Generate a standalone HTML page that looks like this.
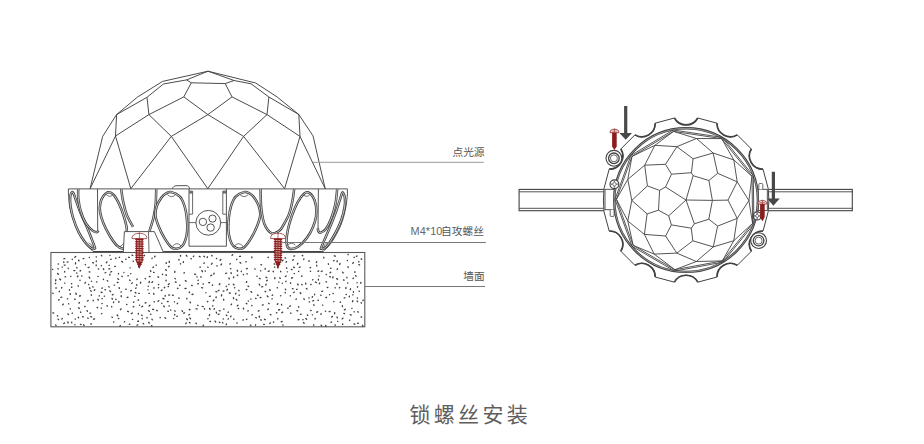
<!DOCTYPE html>
<html><head><meta charset="utf-8"><title>锁螺丝安装</title>
<style>
html,body{margin:0;padding:0;background:#fff;}
body{width:924px;height:444px;overflow:hidden;font-family:"Liberation Sans",sans-serif;}
svg{display:block;}
</style></head><body>
<svg width="924" height="444" viewBox="0 0 924 444">
<rect width="924" height="444" fill="#fff"/>
<path d="M90.1,188.7 L102.7,136.3 L116.6,114.6 L137.5,97.0 L162.6,81.4 L208.0,71.2 L255.7,83.0 L277.2,97.0 L298.8,114.5 L313.0,135.8 L325.2,188.7 M208.0,71.2 L186.6,79.9 L163.4,84.0 L147.0,97.3 L116.6,114.6 M208.0,71.2 L234.0,80.5 L251.0,83.8 L268.9,97.0 L298.8,114.5 M186.6,79.9 L191.3,82.8 L225.2,83.6 L234.0,80.5 M191.3,82.8 L183.8,96.9 L148.9,114.6 M225.2,83.6 L232.0,96.9 L267.0,114.6 M183.8,96.9 L207.9,114.6 L232.0,96.9 M147.0,97.3 L148.9,114.6 L115.5,136.0 M268.9,97.0 L267.0,114.6 L300.0,136.4 M148.9,114.6 L171.3,136.4 L207.9,114.6 L243.6,136.4 L267.0,114.6 M116.6,114.6 L115.5,136.0 L90.1,188.7 M298.8,114.5 L300.0,136.4 L325.2,188.7 M115.5,136.0 L130.8,188.7 L171.3,136.4 L207.8,188.7 L243.6,136.4 L284.6,188.7 L300.0,136.4" fill="none" stroke="#424242" stroke-width="0.95" stroke-linejoin="round"/>
<path d="M68.4,188.9 L347.4,188.9" fill="none" stroke="#424242" stroke-width="0.9" />
<path d="M68.4,188.9 L68.4,194  C68.7,196.5 68.9,203.7 70.1,209.0 C71.3,214.3 73.2,220.5 75.5,225.8 C77.8,231.2 81.0,236.8 83.9,241.1 C86.8,245.4 91.5,249.8 93.0,251.5" fill="none" stroke="#424242" stroke-width="0.9" />
<path d="M347.4,188.9 L347.4,195  C347.1,197.3 346.6,203.9 345.5,209.0 C344.4,214.1 343.0,220.2 340.6,225.8 C338.2,231.4 334.3,238.4 331.4,242.7 C328.5,247.0 324.6,250.0 323.2,251.5" fill="none" stroke="#424242" stroke-width="0.9" />
<path d="M72.0,192.2 C71.4,192.6 70.5,194.4 70.2,196.7 C70.0,199.0 70.0,202.3 70.5,205.9 C71.0,209.5 71.9,213.9 73.2,218.2 C74.5,222.5 76.5,227.8 78.5,231.9 C80.5,236.0 83.2,239.9 85.4,242.7 C87.6,245.4 90.1,247.4 91.6,248.4 C93.1,249.4 94.1,249.0 94.6,248.6 C95.0,248.2 95.6,249.6 94.3,246.0 C93.0,242.4 89.2,232.7 87.0,227.3 C84.8,221.9 82.6,217.9 80.8,213.6 C79.0,209.3 77.5,204.6 76.3,201.3 C75.1,198.0 74.5,195.5 73.8,194.0 C73.1,192.5 72.6,191.8 72.0,192.2 Z" fill="none" stroke="#3c3c3c" stroke-width="2.5" />
<path d="M72.0,192.2 C71.4,192.6 70.5,194.4 70.2,196.7 C70.0,199.0 70.0,202.3 70.5,205.9 C71.0,209.5 71.9,213.9 73.2,218.2 C74.5,222.5 76.5,227.8 78.5,231.9 C80.5,236.0 83.2,239.9 85.4,242.7 C87.6,245.4 90.1,247.4 91.6,248.4 C93.1,249.4 94.1,249.0 94.6,248.6 C95.0,248.2 95.6,249.6 94.3,246.0 C93.0,242.4 89.2,232.7 87.0,227.3 C84.8,221.9 82.6,217.9 80.8,213.6 C79.0,209.3 77.5,204.6 76.3,201.3 C75.1,198.0 74.5,195.5 73.8,194.0 C73.1,192.5 72.6,191.8 72.0,192.2 Z" fill="none" stroke="#fff" stroke-width="0.75" />
<path d="M88.6,242.8 Q92.4,244.2 92.6,247.4" fill="none" stroke="#424242" stroke-width="0.7" />
<path d="M78.2,188.9 C78.2,190.5 77.9,194.7 78.3,198.3 C78.7,201.9 79.4,206.4 80.6,210.5 C81.8,214.6 83.6,219.5 85.6,222.8 C87.5,226.1 90.5,228.8 92.3,230.4 C94.1,232.0 95.5,232.2 96.6,232.2 C97.6,232.2 98.3,230.9 98.6,230.6" fill="none" stroke="#3c3c3c" stroke-width="2.5" />
<path d="M78.2,188.9 C78.2,190.5 77.9,194.7 78.3,198.3 C78.7,201.9 79.4,206.4 80.6,210.5 C81.8,214.6 83.6,219.5 85.6,222.8 C87.5,226.1 90.5,228.8 92.3,230.4 C94.1,232.0 95.5,232.2 96.6,232.2 C97.6,232.2 98.3,230.9 98.6,230.6" fill="none" stroke="#fff" stroke-width="0.75" />
<path d="M97.5,188.9 L97.7,230.6" fill="none" stroke="#424242" stroke-width="0.9" />
<path d="M108.5,192.3 C110.2,192.2 112.1,193.2 113.9,195.2 C115.7,197.2 117.6,200.8 119.3,204.4 C121.0,208.0 122.7,212.7 123.9,216.6 C125.1,220.5 126.2,224.3 126.7,228.0 C127.2,231.7 126.9,235.9 126.6,239.0 C126.2,242.1 125.3,245.0 124.6,246.6 C123.9,248.2 123.6,248.6 122.3,248.4 C121.0,248.2 119.2,247.9 117.0,245.7 C114.8,243.5 111.6,238.8 109.3,235.0 C107.0,231.2 104.7,226.6 103.2,222.8 C101.7,219.0 100.6,215.3 100.1,212.0 C99.6,208.7 99.9,205.5 100.4,202.8 C101.0,200.1 102.1,197.8 103.4,196.0 C104.8,194.2 106.8,192.4 108.5,192.3 Z" fill="none" stroke="#3c3c3c" stroke-width="2.5" />
<path d="M108.5,192.3 C110.2,192.2 112.1,193.2 113.9,195.2 C115.7,197.2 117.6,200.8 119.3,204.4 C121.0,208.0 122.7,212.7 123.9,216.6 C125.1,220.5 126.2,224.3 126.7,228.0 C127.2,231.7 126.9,235.9 126.6,239.0 C126.2,242.1 125.3,245.0 124.6,246.6 C123.9,248.2 123.6,248.6 122.3,248.4 C121.0,248.2 119.2,247.9 117.0,245.7 C114.8,243.5 111.6,238.8 109.3,235.0 C107.0,231.2 104.7,226.6 103.2,222.8 C101.7,219.0 100.6,215.3 100.1,212.0 C99.6,208.7 99.9,205.5 100.4,202.8 C101.0,200.1 102.1,197.8 103.4,196.0 C104.8,194.2 106.8,192.4 108.5,192.3 Z" fill="none" stroke="#fff" stroke-width="0.75" />
<path d="M106.2,194.4 Q109.3,197.8 112.6,195.2" fill="none" stroke="#424242" stroke-width="0.75" />
<path d="M120.0,246.6 Q122.6,245.2 123.6,243.2" fill="none" stroke="#424242" stroke-width="0.75" />
<path d="M121.2,188.9 C121.5,191.0 122.1,196.9 123.1,201.3 C124.0,205.7 125.2,210.8 126.9,215.1 C128.6,219.3 132.0,224.9 133.0,226.8" fill="none" stroke="#3c3c3c" stroke-width="2.5" />
<path d="M121.2,188.9 C121.5,191.0 122.1,196.9 123.1,201.3 C124.0,205.7 125.2,210.8 126.9,215.1 C128.6,219.3 132.0,224.9 133.0,226.8" fill="none" stroke="#fff" stroke-width="0.75" />
<path d="M156.2,188.9 C156.1,191.6 156.1,200.2 155.6,205.0 C155.1,209.8 154.4,213.6 153.4,218.0 C152.4,222.4 150.1,229.0 149.4,231.2" fill="none" stroke="#3c3c3c" stroke-width="2.5" />
<path d="M156.2,188.9 C156.1,191.6 156.1,200.2 155.6,205.0 C155.1,209.8 154.4,213.6 153.4,218.0 C152.4,222.4 150.1,229.0 149.4,231.2" fill="none" stroke="#fff" stroke-width="0.75" />
<path d="M123.3,252.0 L124.4,231.6 L154.4,231.6 L163.3,252.0" fill="#fff" stroke="#424242" stroke-width="0.9"/>
<path d="M148.5,231.6 L149.0,252.0" fill="none" stroke="#424242" stroke-width="0.8" />
<path d="M171.4,192.1 C173.7,192.6 177.7,194.4 179.9,196.7 C182.1,199.0 183.3,202.3 184.5,205.9 C185.7,209.5 186.4,214.1 186.8,218.2 C187.2,222.3 187.4,226.8 187.2,230.4 C187.0,234.0 186.3,237.0 185.5,239.6 C184.7,242.2 183.6,244.5 182.2,246.0 C180.8,247.5 178.6,248.6 176.8,248.8 C175.0,249.0 173.5,249.1 171.4,247.3 C169.3,245.5 166.7,241.7 164.5,238.1 C162.3,234.5 159.9,229.6 158.4,225.8 C156.9,222.0 155.7,218.4 155.4,215.1 C155.2,211.8 155.9,208.8 156.9,205.9 C157.9,203.0 160.0,199.6 161.5,197.5 C163.0,195.4 164.4,194.3 166.1,193.4 C167.8,192.5 169.1,191.6 171.4,192.1 Z" fill="none" stroke="#3c3c3c" stroke-width="2.5" />
<path d="M171.4,192.1 C173.7,192.6 177.7,194.4 179.9,196.7 C182.1,199.0 183.3,202.3 184.5,205.9 C185.7,209.5 186.4,214.1 186.8,218.2 C187.2,222.3 187.4,226.8 187.2,230.4 C187.0,234.0 186.3,237.0 185.5,239.6 C184.7,242.2 183.6,244.5 182.2,246.0 C180.8,247.5 178.6,248.6 176.8,248.8 C175.0,249.0 173.5,249.1 171.4,247.3 C169.3,245.5 166.7,241.7 164.5,238.1 C162.3,234.5 159.9,229.6 158.4,225.8 C156.9,222.0 155.7,218.4 155.4,215.1 C155.2,211.8 155.9,208.8 156.9,205.9 C157.9,203.0 160.0,199.6 161.5,197.5 C163.0,195.4 164.4,194.3 166.1,193.4 C167.8,192.5 169.1,191.6 171.4,192.1 Z" fill="none" stroke="#fff" stroke-width="0.75" />
<path d="M244.2,192.1 C241.9,192.6 237.9,194.4 235.7,196.7 C233.5,199.0 232.3,202.3 231.1,205.9 C230.0,209.5 229.2,214.1 228.8,218.2 C228.4,222.3 228.2,226.8 228.4,230.4 C228.6,234.0 229.3,237.0 230.1,239.6 C230.9,242.2 232.0,244.5 233.4,246.0 C234.9,247.5 237.0,248.6 238.8,248.8 C240.6,249.0 242.2,249.1 244.2,247.3 C246.3,245.5 248.9,241.7 251.1,238.1 C253.3,234.5 255.7,229.6 257.2,225.8 C258.7,222.0 260.0,218.4 260.2,215.1 C260.5,211.8 259.7,208.8 258.7,205.9 C257.7,203.0 255.6,199.6 254.1,197.5 C252.6,195.4 251.2,194.3 249.5,193.4 C247.9,192.5 246.5,191.6 244.2,192.1 Z" fill="none" stroke="#3c3c3c" stroke-width="2.5" />
<path d="M244.2,192.1 C241.9,192.6 237.9,194.4 235.7,196.7 C233.5,199.0 232.3,202.3 231.1,205.9 C230.0,209.5 229.2,214.1 228.8,218.2 C228.4,222.3 228.2,226.8 228.4,230.4 C228.6,234.0 229.3,237.0 230.1,239.6 C230.9,242.2 232.0,244.5 233.4,246.0 C234.9,247.5 237.0,248.6 238.8,248.8 C240.6,249.0 242.2,249.1 244.2,247.3 C246.3,245.5 248.9,241.7 251.1,238.1 C253.3,234.5 255.7,229.6 257.2,225.8 C258.7,222.0 260.0,218.4 260.2,215.1 C260.5,211.8 259.7,208.8 258.7,205.9 C257.7,203.0 255.6,199.6 254.1,197.5 C252.6,195.4 251.2,194.3 249.5,193.4 C247.9,192.5 246.5,191.6 244.2,192.1 Z" fill="none" stroke="#fff" stroke-width="0.75" />
<path d="M167.4,194.6 Q171.4,198.6 175.5,194.8" fill="none" stroke="#424242" stroke-width="0.75" />
<path d="M172.6,246.2 Q176.8,241.4 181.0,245.8" fill="none" stroke="#424242" stroke-width="0.75" />
<path d="M248.20000000000002,194.6 Q244.20000000000002,198.6 240.10000000000002,194.8" fill="none" stroke="#424242" stroke-width="0.75" />
<path d="M243.00000000000003,246.2 Q238.8,241.4 234.60000000000002,245.8" fill="none" stroke="#424242" stroke-width="0.75" />
<path d="M189.0,188.9 L189.0,246.2 L226.4,246.2 L226.4,188.9" fill="none" stroke="#424242" stroke-width="0.9" />
<path d="M192.6,191.0 L192.6,214.2 L189.0,214.2" fill="none" stroke="#424242" stroke-width="0.8" />
<path d="M222.8,191.0 L222.8,214.2 L226.4,214.2" fill="none" stroke="#424242" stroke-width="0.8" />
<rect x="189.3" y="190.6" width="3.1" height="3" fill="#424242" opacity="0.75"/><rect x="223.0" y="190.6" width="3.1" height="3" fill="#424242" opacity="0.75"/>
<path d="M189.0,222.6 L196.0,222.6 M220.6,222.6 L226.4,222.6" fill="none" stroke="#424242" stroke-width="0.8" />
<circle cx="208.3" cy="222.8" r="12.4" fill="none" stroke="#424242" stroke-width="0.9"/>
<circle cx="202.9" cy="221.9" r="3.7" fill="none" stroke="#424242" stroke-width="0.9"/>
<circle cx="212.5" cy="218.6" r="3.6" fill="none" stroke="#424242" stroke-width="0.9"/>
<circle cx="210.6" cy="227.6" r="3.7" fill="none" stroke="#424242" stroke-width="0.9"/>
<path d="M172.4,188.9 C173,186.6 174.5,185.7 177,185.7 L186,185.6 C188.6,185.6 189.4,187 189.6,188.9" fill="none" stroke="#424242" stroke-width="0.9" />
<path d="M260.6,188.9 C260.7,192.1 260.6,202.4 261.3,208.3 C262.0,214.2 262.8,220.3 264.6,224.5 C266.4,228.7 269.4,232.4 271.9,233.4 C274.4,234.4 277.6,231.9 279.6,230.4 C281.6,228.9 282.2,227.1 283.8,224.3 C285.4,221.5 287.8,217.4 289.2,213.6 C290.6,209.8 291.6,205.4 292.4,201.3 C293.2,197.2 293.9,191.0 294.2,188.9" fill="none" stroke="#3c3c3c" stroke-width="2.5" />
<path d="M260.6,188.9 C260.7,192.1 260.6,202.4 261.3,208.3 C262.0,214.2 262.8,220.3 264.6,224.5 C266.4,228.7 269.4,232.4 271.9,233.4 C274.4,234.4 277.6,231.9 279.6,230.4 C281.6,228.9 282.2,227.1 283.8,224.3 C285.4,221.5 287.8,217.4 289.2,213.6 C290.6,209.8 291.6,205.4 292.4,201.3 C293.2,197.2 293.9,191.0 294.2,188.9" fill="none" stroke="#fff" stroke-width="0.75" />
<path d="M306.8,192.3 C308.8,192.2 311.4,194.4 312.9,196.7 C314.4,199.0 315.5,202.6 316.0,205.9 C316.5,209.2 316.5,213.0 316.0,216.6 C315.5,220.2 314.4,223.7 312.9,227.3 C311.4,230.9 309.2,234.9 306.8,238.1 C304.4,241.3 301.1,244.7 298.4,246.5 C295.7,248.3 292.6,249.0 290.7,248.9 C288.8,248.8 287.6,247.8 287.0,245.7 C286.4,243.6 286.4,240.1 286.8,236.5 C287.2,232.9 287.9,228.9 289.2,224.3 C290.5,219.7 292.6,213.5 294.5,209.0 C296.4,204.5 298.6,200.3 300.7,197.5 C302.8,194.7 304.8,192.4 306.8,192.3 Z" fill="none" stroke="#3c3c3c" stroke-width="2.5" />
<path d="M306.8,192.3 C308.8,192.2 311.4,194.4 312.9,196.7 C314.4,199.0 315.5,202.6 316.0,205.9 C316.5,209.2 316.5,213.0 316.0,216.6 C315.5,220.2 314.4,223.7 312.9,227.3 C311.4,230.9 309.2,234.9 306.8,238.1 C304.4,241.3 301.1,244.7 298.4,246.5 C295.7,248.3 292.6,249.0 290.7,248.9 C288.8,248.8 287.6,247.8 287.0,245.7 C286.4,243.6 286.4,240.1 286.8,236.5 C287.2,232.9 287.9,228.9 289.2,224.3 C290.5,219.7 292.6,213.5 294.5,209.0 C296.4,204.5 298.6,200.3 300.7,197.5 C302.8,194.7 304.8,192.4 306.8,192.3 Z" fill="none" stroke="#fff" stroke-width="0.75" />
<path d="M303.6,195.0 Q307.2,198.0 310.0,194.4" fill="none" stroke="#424242" stroke-width="0.75" />
<path d="M287.8,244.8 Q291.6,241.6 295.4,245.0" fill="none" stroke="#424242" stroke-width="0.75" />
<path d="M318.4,188.9 L318.0,229.0" fill="none" stroke="#424242" stroke-width="0.9" />
<path d="M317.8,228.0 C317.9,228.6 317.9,230.6 318.4,231.4 C318.9,232.2 319.5,232.9 320.7,232.6 C321.9,232.3 323.6,231.8 325.3,229.6 C327.0,227.4 329.0,223.9 330.7,219.7 C332.4,215.5 334.2,209.5 335.3,204.4 C336.4,199.3 336.9,191.5 337.2,188.9" fill="none" stroke="#3c3c3c" stroke-width="2.5" />
<path d="M317.8,228.0 C317.9,228.6 317.9,230.6 318.4,231.4 C318.9,232.2 319.5,232.9 320.7,232.6 C321.9,232.3 323.6,231.8 325.3,229.6 C327.0,227.4 329.0,223.9 330.7,219.7 C332.4,215.5 334.2,209.5 335.3,204.4 C336.4,199.3 336.9,191.5 337.2,188.9" fill="none" stroke="#fff" stroke-width="0.75" />
<path d="M342.9,192.6 C343.4,193.3 344.6,195.8 344.9,198.3 C345.2,200.8 345.1,203.8 344.5,207.4 C343.9,211.0 342.8,215.6 341.4,219.7 C340.0,223.8 338.2,227.8 336.0,231.9 C333.8,236.0 330.5,241.4 328.4,244.2 C326.3,247.0 324.8,247.9 323.6,248.6 C322.4,249.3 321.7,248.9 321.4,248.6 C321.1,248.3 320.2,250.1 321.6,246.6 C323.0,243.1 327.6,232.8 329.9,227.3 C332.2,221.8 333.6,218.2 335.3,213.6 C337.0,209.0 338.8,203.1 339.9,199.8 C341.0,196.5 341.2,195.2 341.7,194.0 C342.2,192.8 342.4,191.9 342.9,192.6 Z" fill="none" stroke="#3c3c3c" stroke-width="2.5" />
<path d="M342.9,192.6 C343.4,193.3 344.6,195.8 344.9,198.3 C345.2,200.8 345.1,203.8 344.5,207.4 C343.9,211.0 342.8,215.6 341.4,219.7 C340.0,223.8 338.2,227.8 336.0,231.9 C333.8,236.0 330.5,241.4 328.4,244.2 C326.3,247.0 324.8,247.9 323.6,248.6 C322.4,249.3 321.7,248.9 321.4,248.6 C321.1,248.3 320.2,250.1 321.6,246.6 C323.0,243.1 327.6,232.8 329.9,227.3 C332.2,221.8 333.6,218.2 335.3,213.6 C337.0,209.0 338.8,203.1 339.9,199.8 C341.0,196.5 341.2,195.2 341.7,194.0 C342.2,192.8 342.4,191.9 342.9,192.6 Z" fill="none" stroke="#fff" stroke-width="0.75" />
<path d="M323.6,247.4 Q323.8,244.2 327.4,242.6" fill="none" stroke="#424242" stroke-width="0.7" />
<path d="M93.0,251.5 L123.3,251.5 M163.3,251.5 L323.2,251.5" fill="none" stroke="#424242" stroke-width="1.0" />
<rect x="50.9" y="252.5" width="313.9" height="74.3" fill="#fff" stroke="#5a5a5a" stroke-width="1.1"/>
<path d="M193.1,294.2 l-1.0,0.3 M339.7,287.5 l-0.3,0.4 M210.3,296.2 l-0.8,0.1 M109.9,290.8 l0.6,0.8 M248.2,310.8 l-0.3,0.3 M81.7,275.9 l0.2,0.2 M80.7,312.0 l-0.0,0.4 M268.0,257.3 l0.3,0.3 M357.7,323.1 l0.6,0.3 M255.7,298.2 l0.3,0.3 M101.4,255.4 l0.4,0.5 M216.7,258.5 l-0.3,0.1 M111.6,271.6 l-0.9,0.4 M61.8,287.4 l-0.2,0.6 M189.4,314.4 l-0.5,0.5 M213.8,300.0 l-0.5,0.9 M207.8,301.5 l-0.3,0.3 M194.6,274.1 l1.0,0.2 M362.5,325.3 l0.4,0.8 M313.6,304.8 l0.5,0.4 M150.5,270.7 l0.3,0.8 M142.3,259.3 l-0.6,0.1 M290.6,282.8 l-0.1,0.5 M315.5,281.9 l0.8,0.7 M350.2,314.7 l1.0,0.4 M52.7,269.3 l-0.1,0.2 M335.3,287.8 l-0.3,0.1 M357.1,282.6 l-0.1,0.3 M75.2,299.2 l-0.5,0.0 M294.4,273.5 l-0.2,0.1 M352.0,308.3 l-0.1,0.2 M89.2,271.9 l0.7,0.1 M83.9,258.6 l-0.8,0.0 M300.1,267.0 l-0.8,0.4 M226.3,286.2 l-0.0,0.3 M111.7,306.5 l-0.0,0.4 M93.2,300.2 l-0.0,0.5 M88.7,284.3 l0.0,0.4 M118.6,273.5 l-0.3,0.5 M354.2,311.6 l0.0,0.3 M147.0,317.4 l0.0,0.7 M118.0,282.4 l-0.7,0.1 M318.0,300.1 l0.4,0.2 M83.7,324.8 l0.4,0.7 M292.6,277.8 l-1.1,0.2 M80.5,295.8 l-1.0,0.2 M128.0,297.2 l-0.9,0.4 M168.0,286.6 l0.6,0.0 M350.5,288.8 l-0.2,0.8 M231.0,316.1 l-0.3,0.7 M109.3,265.3 l-0.3,0.1 M334.7,312.6 l-0.1,1.1 M130.0,267.8 l0.3,0.0 M282.2,321.4 l-1.0,0.4 M113.6,322.0 l0.2,0.0 M326.6,297.3 l-0.7,0.4 M183.4,261.7 l-0.0,0.7 M64.5,322.9 l-0.7,0.6 M126.6,304.5 l0.3,0.0 M132.3,313.0 l-0.9,0.6 M237.8,275.2 l-0.5,0.3 M107.0,305.7 l0.3,0.4 M73.9,270.6 l0.9,0.0 M226.3,315.1 l0.5,0.5 M243.4,274.3 l-0.0,0.5 M337.5,268.8 l-0.3,0.5 M57.6,273.5 l0.7,0.7 M191.0,258.6 l0.3,0.2 M107.3,280.6 l0.4,0.5 M230.3,263.7 l-0.4,0.3 M165.0,317.8 l0.6,0.5 M357.1,301.1 l0.5,0.5 M267.3,296.0 l0.7,0.7 M96.1,256.8 l0.3,0.2 M58.1,319.2 l0.3,0.4 M270.3,322.9 l-0.5,0.6 M59.1,299.7 l-0.5,0.4 M202.3,306.4 l0.9,0.2 M151.6,325.6 l0.3,0.3 M75.9,293.2 l0.3,1.1 M281.5,304.5 l0.2,0.5 M299.0,319.5 l-1.0,0.3 M161.8,303.2 l0.1,0.3 M332.4,316.4 l-0.7,0.6 M182.1,310.7 l0.4,0.8 M320.8,295.1 l0.2,0.4 M246.7,281.6 l-0.3,0.8 M233.5,297.7 l0.1,0.9 M361.1,317.0 l0.6,0.0 M278.8,282.0 l0.1,0.2 M280.9,295.7 l-0.3,0.1 M78.5,307.8 l0.8,0.6 M61.8,297.2 l-1.0,0.1 M201.9,270.7 l0.5,0.9 M269.5,289.8 l0.8,0.4 M243.4,319.9 l-0.4,0.1 M132.0,255.1 l0.7,0.3 M146.0,302.7 l-0.8,0.3 M115.4,266.4 l-0.6,0.1 M333.9,301.4 l0.1,0.3 M189.8,317.9 l0.7,0.8 M154.1,301.8 l0.4,0.1 M114.2,285.0 l0.1,0.2 M302.9,319.5 l0.2,0.3 M326.0,281.7 l0.6,0.3 M233.7,276.9 l-0.1,0.7 M94.8,289.7 l-0.5,0.5 M312.6,314.8 l-0.3,0.0 M273.5,322.0 l0.2,0.2 M138.5,266.4 l0.5,0.7 M246.9,289.5 l-0.6,0.2 M150.5,314.1 l0.4,0.2 M357.6,286.6 l-0.1,0.5 M75.7,256.5 l-0.9,0.7 M323.7,257.3 l0.1,0.7 M272.7,295.0 l-0.5,0.3 M148.5,310.7 l0.9,0.6 M58.4,264.0 l-0.2,0.0 M193.8,256.1 l-0.4,0.4 M310.3,271.2 l0.3,0.1 M248.0,286.1 l0.7,0.4 M248.2,301.0 l0.2,0.1 M303.4,322.6 l0.7,0.6 M265.2,268.5 l0.0,0.8 M200.1,267.0 l0.0,0.4 M55.8,288.0 l0.5,0.0 M274.4,267.1 l0.4,0.1 M137.1,279.0 l-0.2,0.5 M243.4,308.2 l0.1,0.8 M174.8,310.8 l0.3,0.4 M334.1,260.5 l-0.7,0.3 M342.3,305.8 l0.2,0.7 M92.9,286.6 l0.1,0.5 M246.9,319.2 l-0.4,0.1 M169.6,294.9 l-0.9,0.2 M325.7,311.1 l-0.3,0.1 M345.9,287.4 l-0.0,1.1 M254.9,268.9 l0.2,0.3 M276.8,312.6 l-0.3,0.3 M251.9,305.5 l-0.1,0.3 M118.8,318.5 l-0.4,0.1 M219.3,310.7 l0.8,0.2 M152.0,319.2 l0.3,0.6 M318.4,279.1 l0.0,1.0 M78.2,285.7 l-0.0,0.5 M223.5,309.1 l0.6,0.0 M203.9,256.3 l0.5,0.5 M303.9,258.9 l-0.2,0.6 M156.6,310.5 l0.6,0.2 M96.2,264.9 l0.0,0.8 M213.0,305.9 l-0.5,0.0 M347.4,260.4 l0.0,0.3 M121.3,291.9 l-0.3,0.2 M142.7,306.3 l-0.8,0.5 M251.0,291.6 l0.7,0.7 M314.6,294.2 l-0.0,0.6 M149.3,281.5 l-0.2,1.0 M315.1,318.5 l0.0,0.6 M117.2,315.0 l0.6,0.8 M353.4,291.7 l-0.0,0.5 M230.5,268.6 l0.3,0.2 M219.0,290.2 l-0.8,0.5 M240.5,256.3 l-1.0,0.1 M227.4,289.3 l-0.5,0.8 M219.9,283.8 l-0.6,0.7 M349.8,320.1 l-0.3,0.2 M136.1,288.0 l-0.4,0.3 M305.9,318.5 l0.7,0.7 M200.6,276.9 l0.7,0.0 M112.0,298.4 l0.4,0.8 M340.0,263.5 l-0.3,1.0 M294.6,255.9 l-0.8,0.2 M266.0,277.3 l0.8,0.2 M162.9,298.5 l1.0,0.4 M85.1,306.4 l-0.4,0.2 M90.6,290.7 l0.7,0.5 M169.2,283.8 l-0.8,0.7 M217.0,265.7 l-0.1,0.3 M116.0,299.3 l-0.2,0.2 M318.7,270.9 l-0.8,0.4 M282.7,312.1 l-0.8,0.6 M333.0,276.8 l-0.2,1.0 M120.3,325.5 l-0.3,0.6 M328.3,263.8 l0.2,0.5 M133.1,261.2 l0.3,0.0 M311.1,284.4 l-0.3,0.2 M297.9,263.3 l-0.4,0.8 M177.6,303.2 l-0.4,0.5 M58.0,268.6 l0.2,0.4 M264.5,319.3 l0.7,0.4 M353.4,262.5 l-0.6,0.9 M209.6,308.4 l0.5,0.9 M111.2,259.3 l-0.4,0.1 M223.9,291.0 l-0.7,0.1 M109.8,268.8 l-0.9,0.1 M313.6,324.9 l0.2,0.4 M71.7,322.1 l-0.0,0.6 M196.1,308.8 l1.0,0.1 M154.0,287.6 l-0.1,0.6 M212.6,285.0 l-0.3,0.3 M270.3,314.5 l0.6,0.4 M108.8,286.7 l0.4,0.3 M282.2,283.2 l0.2,0.1 M211.8,255.4 l0.3,0.6 M330.0,311.5 l-0.8,0.1 M238.8,290.3 l0.2,0.5 M357.8,311.7 l0.5,0.4 M132.7,319.3 l-0.3,0.0 M305.6,283.2 l0.2,0.8 M268.4,309.0 l-0.5,0.5 M277.0,259.3 l-0.4,0.9 M158.7,287.7 l-0.4,0.1 M55.8,279.7 l-0.1,1.1 M250.9,298.8 l-0.0,0.4 M124.6,321.7 l-0.2,0.2 M259.5,278.4 l0.6,0.3 M257.5,294.9 l0.6,0.6 M363.2,300.1 l-0.3,0.4 M357.0,255.9 l-0.6,0.5 M132.2,282.9 l-0.4,0.5 M68.2,268.2 l0.1,0.3 M169.2,261.3 l0.1,1.1 M353.0,294.8 l-0.2,0.1 M238.2,308.4 l0.4,0.1 M102.2,287.9 l-0.3,0.5 M105.0,289.6 l0.5,0.2 M216.2,296.9 l-0.2,0.8 M166.1,274.7 l0.2,0.7 M144.5,255.3 l-0.4,0.6 M128.6,257.3 l0.8,0.1 M101.2,308.1 l0.2,0.1 M173.7,318.3 l0.0,0.2 M285.0,257.9 l0.5,0.1 M75.3,318.9 l0.0,0.3 M186.0,288.4 l-1.0,0.1 M354.9,271.7 l0.0,0.7 M215.1,321.1 l0.6,0.9 M277.1,287.7 l0.4,0.2 M240.0,262.5 l0.8,0.6 M115.8,258.0 l-0.0,0.6 M190.1,301.9 l0.3,0.9 M233.4,284.2 l0.6,0.7 M294.2,292.1 l-0.4,0.5 M280.6,271.3 l0.2,0.5 M87.9,317.9 l0.1,0.5 M296.2,298.9 l-0.2,0.5 M236.3,299.4 l0.5,0.7 M286.6,267.8 l0.1,0.6 M129.9,324.2 l-0.6,0.2 M337.0,317.0 l0.4,0.9 M64.8,258.6 l-0.9,0.1 M136.7,284.6 l0.2,0.8 M246.2,261.6 l-0.3,0.3 M220.8,259.5 l-0.7,0.8 M79.4,302.5 l-0.4,0.7 M223.6,299.3 l0.2,0.8 M117.9,278.8 l0.7,0.6 M75.6,262.8 l-0.1,1.1 M303.9,298.8 l0.4,0.7 M291.4,269.5 l0.6,0.0 M184.3,272.7 l-0.3,0.3 M255.6,324.8 l-0.1,0.4 M153.6,293.4 l0.3,1.0 M185.4,280.6 l0.8,0.6 M82.6,316.7 l0.7,0.1 M293.4,259.7 l-0.8,0.5 M118.8,301.5 l0.2,0.7 M77.9,276.0 l-0.5,0.7 M277.8,303.8 l-0.5,0.5 M163.7,306.1 l0.6,0.6 M166.3,262.7 l-0.1,0.7 M337.9,321.3 l-0.3,0.0 M302.0,276.0 l-0.4,0.3 M342.9,318.1 l-0.7,0.8 M129.6,280.1 l0.5,0.5 M166.1,280.2 l-0.1,0.6 M175.4,281.9 l0.7,0.4 M113.1,294.5 l-0.8,0.3 M300.2,292.8 l0.6,0.7 M326.2,274.4 l0.1,0.3 M59.4,291.1 l-0.2,0.6 M221.6,294.8 l-0.1,1.1 M352.8,300.7 l-0.2,1.0 M78.6,260.1 l0.4,0.8 M97.2,307.5 l0.5,0.1 M121.0,308.9 l-0.5,0.7 M214.5,308.8 l-0.5,0.3 M175.0,278.4 l0.3,0.4 M205.9,292.6 l-0.0,0.2 M336.8,283.6 l0.3,0.7 M309.2,301.8 l0.4,0.2 M317.7,311.8 l-1.0,0.4 M301.8,284.4 l0.3,0.3 M282.8,325.0 l0.3,0.1 M169.2,266.3 l-0.7,0.5 M143.2,323.4 l0.4,0.5 M70.9,276.3 l-0.1,0.2 M88.2,300.5 l-0.8,0.5 M293.6,267.1 l0.7,0.5 M71.9,287.0 l-0.3,0.4 M234.0,319.1 l-0.4,0.1 M63.8,262.0 l0.0,0.5 M237.3,270.3 l0.2,0.9 M110.0,274.3 l-0.2,0.7 M149.4,293.4 l-0.4,0.0 M306.4,288.5 l0.6,0.5 M336.6,278.7 l1.0,0.5 M222.6,322.5 l0.3,0.5 M67.9,321.9 l0.2,0.9 M137.8,324.9 l-0.8,0.2 M167.9,311.1 l0.4,0.3 M101.4,265.5 l-0.2,0.3 M322.6,291.1 l-0.9,0.4 M250.4,325.1 l0.4,0.3 M135.3,292.4 l0.6,0.6 M52.9,312.9 l0.8,0.1 M201.7,287.7 l0.9,0.2 M349.4,296.1 l-0.1,0.7 M318.9,275.9 l0.2,0.1 M297.7,284.0 l0.5,1.0 M337.3,260.8 l-0.3,0.9 M101.5,313.6 l0.3,0.1 M149.3,276.5 l0.8,0.1 M197.7,305.3 l0.4,0.2 M85.4,282.4 l-0.4,0.7 M196.0,323.2 l0.3,0.5 M273.1,271.2 l0.4,0.6 M55.8,325.0 l0.2,0.5 M145.2,278.4 l0.3,0.3 M174.4,301.8 l0.1,0.2 M279.8,277.8 l0.4,0.6 M346.1,294.4 l0.2,0.2 M309.4,260.9 l-0.6,0.3 M96.3,261.0 l-0.0,0.5 M263.1,304.8 l-0.8,0.3 M312.5,296.6 l-0.3,0.7 M80.5,270.5 l-0.4,0.5 M178.9,259.5 l0.1,0.5 M290.8,312.8 l-0.0,0.6 M180.6,255.4 l-0.1,0.7 M158.8,300.7 l-0.8,0.6 M308.9,297.9 l0.2,0.1 M333.1,293.4 l0.1,0.2 M162.0,290.0 l-0.6,0.5 M359.1,291.1 l0.2,0.3 M247.3,268.4 l-0.9,0.4 M231.6,304.0 l-0.4,0.7 M164.7,287.3 l-0.4,0.4 M91.0,323.7 l0.2,0.7 M94.6,318.8 l-1.0,0.4 M226.6,273.1 l-0.9,0.2 M335.0,325.0 l0.4,0.1 M90.6,313.1 l-0.7,0.1 M142.2,318.3 l-0.0,0.5 M310.6,267.5 l-0.6,0.3 M62.4,267.1 l-0.3,0.0 M257.1,276.2 l-0.2,0.0 M302.2,255.5 l0.5,0.2 M96.9,281.8 l-0.1,0.3 M214.0,273.1 l-0.2,1.0 M229.0,278.0 l0.2,0.9 M251.9,257.0 l-0.2,0.7 M261.0,264.6 l0.5,0.3 M198.5,283.6 l-0.8,0.2 M246.3,303.4 l0.5,0.4 M288.0,307.9 l-0.1,0.5 M203.4,325.2 l-0.2,0.7 M179.6,285.2 l0.4,0.0 M228.3,318.8 l-0.2,0.3 M215.9,291.7 l0.9,0.2 M186.8,318.8 l0.5,0.9 M152.1,258.2 l-0.1,0.3 M277.9,318.5 l-0.2,0.4 M286.1,276.0 l-0.7,0.5 M236.9,259.3 l-0.2,0.2 M208.7,282.6 l0.9,0.1 M68.6,303.8 l0.3,0.2 M125.8,259.2 l0.3,0.0 M259.3,316.1 l0.1,1.1 M348.0,254.3 l0.2,0.4 M128.3,275.6 l-0.3,0.2 M62.2,318.4 l-0.3,0.7 M148.1,289.8 l-0.2,0.0 M342.7,324.0 l-0.1,0.5 M331.1,268.2 l-0.4,0.2 M312.8,279.6 l-0.2,0.3 M325.8,325.3 l0.0,1.1 M112.0,317.1 l0.3,0.3 M68.0,261.9 l-0.8,0.2 M274.1,263.9 l0.4,0.1 M121.9,276.2 l0.3,0.3 M259.0,310.7 l-0.7,0.4 M168.2,301.5 l-0.8,0.1 M340.4,301.9 l-0.2,0.5 M138.5,299.9 l-0.4,0.5 M80.5,324.4 l0.6,0.1 M189.3,292.0 l0.2,0.6 M287.3,271.8 l0.2,0.0 M139.2,293.4 l-0.5,0.0 M207.8,267.1 l0.2,0.3 M209.6,314.6 l-0.3,1.0 M265.1,291.4 l0.5,0.3 M348.1,266.7 l0.0,0.9 M241.4,271.1 l-0.1,0.4 M189.3,309.4 l0.7,0.5 M296.9,310.7 l0.9,0.2 M125.8,289.2 l0.4,0.0 M121.2,295.7 l0.1,1.0 M207.5,256.8 l-0.3,0.8 M237.9,305.3 l-0.6,0.6 M229.3,293.0 l0.9,0.2 M298.5,271.3 l0.3,0.2 M97.9,276.5 l0.2,0.0 M65.6,276.7 l-0.5,0.2 M134.7,296.3 l0.2,0.1 M105.8,272.5 l-0.7,0.3 M102.2,303.5 l-0.2,0.1 M310.7,310.4 l0.4,0.2 M71.5,283.6 l0.2,0.2 M165.7,269.7 l0.6,0.5 M354.0,257.3 l0.3,0.2 M204.6,308.6 l-0.1,0.5 M358.9,264.6 l0.6,0.3 M64.7,271.5 l-0.0,0.5 M123.9,272.4 l0.0,0.2 M357.4,297.9 l-0.1,0.3 M64.8,283.0 l0.1,0.2 M327.9,287.3 l-0.7,0.3 M174.6,314.4 l0.2,0.6 M170.9,310.0 l-0.3,0.1 M103.4,268.8 l0.3,0.8 M119.1,287.6 l0.3,0.8 M148.4,286.2 l-0.2,0.1 M361.1,302.7 l0.3,0.4 M267.3,280.2 l-0.6,0.6 M137.8,255.6 l-0.6,0.8 M343.5,279.9 l0.5,0.3 M290.4,305.9 l-0.8,0.4 M334.3,255.8 l1.0,0.4 M152.6,281.7 l-0.7,0.7 M78.3,317.2 l0.3,0.7 M153.6,309.3 l-1.0,0.1 M174.9,271.3 l-0.2,1.0 M65.2,265.1 l-1.0,0.0 M221.5,264.0 l-0.5,0.9 M98.2,268.9 l0.5,0.2 M139.6,305.1 l-0.1,0.3 M119.5,257.2 l-0.2,0.2 M228.3,312.0 l-0.2,0.4 M355.6,275.6 l0.4,0.6 M260.8,319.8 l0.5,0.3 M322.3,271.0 l-1.0,0.5 M177.5,288.2 l0.4,0.4 M158.7,284.4 l-0.2,0.3 M99.4,295.8 l-0.3,0.2 M69.5,289.6 l-0.1,0.5 M234.5,287.7 l0.2,0.0 M153.6,272.4 l0.5,0.0 M59.8,279.0 l0.7,0.8 M329.6,294.6 l-0.1,0.2 M133.9,301.9 l-0.3,0.3 M165.2,295.4 l0.0,0.8 M345.3,309.3 l-0.9,0.5 M138.3,313.5 l0.1,0.5 M52.8,293.1 l0.2,0.5 M353.5,278.1 l-0.4,0.4 M160.2,317.5 l-0.2,0.3 M149.9,305.3 l-0.8,0.7 M268.6,303.3 l0.6,0.4 M102.0,298.6 l0.2,0.1 M285.2,292.4 l0.1,0.4 M153.5,267.0 l-0.5,0.5 M212.1,263.3 l-0.6,0.9 M72.1,259.2 l0.3,0.1 M292.4,288.6 l0.6,0.1 M131.4,290.5 l-0.7,0.4 M274.9,277.6 l-0.1,1.0 M228.8,284.3 l0.1,0.3 M272.1,298.7 l-0.1,0.2 M91.4,281.2 l0.2,0.1 M260.5,270.8 l0.2,0.1 M109.9,255.3 l-0.0,0.3 M266.1,284.2 l-0.3,0.9 M89.3,257.3 l0.1,0.3 M155.0,256.2 l-0.4,0.7 M301.2,314.1 l-0.7,0.2 M140.7,282.2 l-0.2,0.9 M106.9,261.9 l-0.6,0.9 M342.6,272.2 l0.6,0.7 M204.2,262.9 l-0.3,0.6 M246.8,273.8 l0.6,0.0 M329.8,276.4 l0.5,0.5 M76.9,267.3 l-0.0,0.7 M203.0,283.9 l0.3,0.1 M70.4,293.6 l-0.3,0.8 M138.6,321.2 l-0.9,0.0 M321.1,325.2 l0.4,0.5 M277.7,266.8 l-0.0,0.9 M216.3,312.1 l0.3,1.0 M298.7,306.7 l0.0,0.6 M358.8,261.5 l0.0,0.5 M347.8,283.0 l-0.2,0.0 M162.5,274.2 l0.1,0.3 M85.4,264.5 l-0.2,0.3 M219.4,322.2 l0.5,0.3 M186.1,322.9 l-0.3,0.8 M346.9,277.3 l0.1,0.5 M259.3,284.2 l0.4,0.9 M239.1,295.1 l0.2,0.1 M177.4,316.2 l-0.6,0.2 M205.1,271.0 l0.3,0.1 M313.6,300.6 l-0.8,0.3 M343.8,313.4 l0.8,0.2 M361.2,258.9 l0.5,0.4 M322.8,305.0 l-0.1,0.2 M297.1,289.3 l-0.5,0.1 M127.6,311.3 l0.8,0.4 M223.2,318.9 l0.2,0.1 M321.2,313.8 l-0.3,0.6 M89.0,267.3 l-0.9,0.3 M74.8,324.7 l0.2,0.1 M113.7,302.0 l-0.2,0.6 M186.3,255.4 l0.6,0.8 M158.0,276.8 l0.6,0.5 M92.6,262.6 l1.0,0.2 M344.9,297.8 l-0.7,0.1 M97.9,299.3 l0.5,0.7 M184.5,312.8 l-0.9,0.3 M209.9,321.4 l0.6,0.1 M141.5,315.2 l0.6,0.3 M262.7,286.7 l-1.0,0.2 M189.5,322.4 l0.5,0.5 M180.4,263.7 l0.2,0.3 M330.7,272.2 l-0.6,0.6 M307.4,314.9 l0.3,0.5 M236.0,293.2 l-0.5,0.7 M80.0,280.2 l0.0,0.3 M168.9,305.9 l0.3,0.1 M331.5,322.0 l-0.6,0.3 M198.3,280.1 l-0.2,0.5 M196.9,276.8 l0.1,0.3 M260.9,297.5 l-0.7,0.1 M354.0,323.9 l0.8,0.3 M360.9,282.5 l-0.2,0.7 M283.0,260.3 l-0.6,0.5 M279.6,309.6 l-1.0,0.4 M89.7,287.7 l0.2,0.8 M57.4,315.6 l0.2,0.5 M87.1,310.6 l0.3,0.7 M91.2,294.8 l0.2,0.5 M211.6,275.3 l-0.8,0.4 M316.8,261.7 l-0.5,0.8 M316.6,265.3 l0.3,0.7 M178.8,298.0 l0.3,0.3 M101.1,292.2 l0.9,0.3 M252.3,314.7 l-0.5,0.1 M76.8,272.9 l0.1,0.3 M255.7,317.5 l0.7,0.3 M208.1,318.7 l-0.3,0.1 M67.9,313.9 l0.6,0.6 M121.7,261.4 l0.8,0.6 M285.4,289.1 l0.3,0.6 M55.3,283.3 l0.4,0.3 M236.9,322.8 l0.1,0.4 M130.8,273.6 l-0.1,0.2 M319.7,283.0 l-0.4,0.8 M70.1,308.7 l0.2,0.3 M67.4,298.8 l0.3,0.1 M232.7,254.7 l-0.6,0.5 M263.7,324.4 l0.6,0.0 M286.0,281.2 l-0.1,0.5 M191.6,285.4 l0.6,0.1 M89.2,277.1 l0.5,1.0 M148.8,322.3 l0.4,0.9 M219.1,314.1 l-0.7,0.3 M90.8,316.6 l0.9,0.4 M199.3,256.5 l0.7,0.2 M104.2,296.1 l0.3,0.1 M103.4,279.2 l0.1,0.3 M173.2,295.2 l-0.7,0.0 M269.2,271.0 l-1.0,0.3 M133.7,306.4 l-0.6,0.5 M231.1,272.6 l0.1,0.9 M72.4,313.1 l-0.2,0.3 M186.9,298.3 l-0.1,0.6 M226.3,323.9 l-0.0,0.8 M286.5,261.6 l-0.4,0.6 M63.4,304.1 l-0.7,0.6 M156.0,265.1 l0.3,0.1 M290.2,295.8 l0.3,0.1" stroke="#404040" stroke-width="1.35" stroke-linecap="round" fill="none"/>
<path d="M132.0,238.6 C131.8,234.6 135.4,233.4 139.4,233.4 C143.4,233.4 147.0,234.6 146.8,238.6 Z" fill="#fff" stroke="#8c1d1d" stroke-width="0.7"/>
<path d="M139.4,232.20000000000002 L139.4,238.6" stroke="#8c1d1d" stroke-width="0.6"/>
<path d="M136.1,238.6 L142.70000000000002,238.6 L142.70000000000002,260.4 L139.4,269.0 L136.1,260.4 Z" fill="#8c1d1d"/>
<path d="M135.2,239.4 L143.6,239.7 M135.2,241.7 L143.6,242.0 M135.2,243.9 L143.6,244.2 M135.2,246.2 L143.6,246.5 M135.2,248.4 L143.6,248.7 M135.2,250.7 L143.6,251.0 M135.2,252.9 L143.6,253.2 M135.2,255.2 L143.6,255.5 M135.2,257.4 L143.6,257.7 M135.2,259.6 L143.6,259.9 M136.1,261.9 L142.7,262.2 M137.1,264.1 L141.7,264.4" stroke="#8c1d1d" stroke-width="1.2"/>
<path d="M137.1,240.5 L141.70000000000002,240.8 M137.1,242.8 L141.70000000000002,243.1 M137.1,245.0 L141.70000000000002,245.3 M137.1,247.2 L141.70000000000002,247.6 M137.1,249.5 L141.70000000000002,249.8 M137.1,251.8 L141.70000000000002,252.1 M137.1,254.0 L141.70000000000002,254.3 M137.1,256.2 L141.70000000000002,256.6 M137.1,258.5 L141.70000000000002,258.8 M137.1,260.8 L141.70000000000002,261.0" stroke="#fff" stroke-width="0.85" stroke-opacity="0.8"/>
<path d="M139.4,238.6 L139.4,264.4" stroke="#8c1d1d" stroke-width="0.7"/>
<path d="M270.6,238.5 C270.4,234.5 274.0,233.3 278.0,233.3 C282.0,233.3 285.6,234.5 285.4,238.5 Z" fill="#fff" stroke="#8c1d1d" stroke-width="0.7"/>
<path d="M278.0,232.10000000000002 L278.0,238.5" stroke="#8c1d1d" stroke-width="0.6"/>
<path d="M274.7,238.5 L281.3,238.5 L281.3,260.3 L278.0,268.90000000000003 L274.7,260.3 Z" fill="#8c1d1d"/>
<path d="M273.8,239.3 L282.2,239.6 M273.8,241.6 L282.2,241.9 M273.8,243.8 L282.2,244.1 M273.8,246.1 L282.2,246.4 M273.8,248.3 L282.2,248.6 M273.8,250.6 L282.2,250.9 M273.8,252.8 L282.2,253.1 M273.8,255.1 L282.2,255.4 M273.8,257.3 L282.2,257.6 M273.8,259.6 L282.2,259.9 M274.7,261.8 L281.3,262.1 M275.7,264.1 L280.3,264.4" stroke="#8c1d1d" stroke-width="1.2"/>
<path d="M275.7,240.4 L280.3,240.7 M275.7,242.7 L280.3,243.0 M275.7,244.9 L280.3,245.2 M275.7,247.2 L280.3,247.5 M275.7,249.4 L280.3,249.7 M275.7,251.7 L280.3,252.0 M275.7,253.9 L280.3,254.2 M275.7,256.2 L280.3,256.4 M275.7,258.4 L280.3,258.7 M275.7,260.7 L280.3,260.9" stroke="#fff" stroke-width="0.85" stroke-opacity="0.8"/>
<path d="M278.0,238.5 L278.0,264.3" stroke="#8c1d1d" stroke-width="0.7"/>
<path d="M313,162.3 L483.8,162.3" stroke="#999" stroke-width="1"/>
<path d="M281.7,242.5 L485.9,242.5" stroke="#777" stroke-width="1"/>
<path d="M365,286.5 L485,286.5" stroke="#777" stroke-width="1"/>
<text x="409.5" y="421.9" font-family="Liberation Sans, Noto Sans CJK SC, sans-serif" font-size="21" fill="#5e5e5e" letter-spacing="3.3">锁螺丝安装</text>
<text x="452.45" y="155.5" font-family="Liberation Sans, Noto Sans CJK SC, sans-serif" font-size="10.7" fill="#555">点光源</text>
<text x="463.24" y="279.6" font-family="Liberation Sans, Noto Sans CJK SC, sans-serif" font-size="10.7" fill="#555">墙面</text>
<text x="441.1" y="234.8" font-family="Liberation Sans, Noto Sans CJK SC, sans-serif" font-size="10.7" fill="#555">自攻螺丝</text>
<text x="410.5" y="235.1" font-family="Liberation Sans, sans-serif" font-size="10.9" fill="#666" letter-spacing="0.1">M4*10</text>
<rect x="519.1" y="189.4" width="120.89999999999998" height="21.3" fill="#fff" stroke="#424242" stroke-width="1.1"/>
<path d="M519.1,191.8 L640.0,191.8 M519.1,208.3 L640.0,208.3" fill="none" stroke="#424242" stroke-width="0.9" />
<rect x="740" y="189.4" width="112.29999999999995" height="21.3" fill="#fff" stroke="#424242" stroke-width="1.1"/>
<path d="M740.0,191.8 L852.3,191.8 M740.0,208.3 L852.3,208.3" fill="none" stroke="#424242" stroke-width="0.9" />
<path d="M604.03,211.78 A113.0,113.0 0 0 1 604.03,188.42 L609.18,169.18 A13.3,13.3 0 0 0 620.86,148.95 L634.95,134.86 A13.3,13.3 0 0 0 655.18,123.18 L674.42,118.03 A13.3,13.3 0 0 0 697.78,118.03 L717.02,123.18 A13.3,13.3 0 0 0 737.25,134.86 L751.34,148.95 A13.3,13.3 0 0 0 763.02,169.18 L768.17,188.42 A93.0,93.0 0 0 1 768.17,211.78 L763.02,231.02 A13.3,13.3 0 0 0 751.34,251.25 L737.25,265.34 A13.3,13.3 0 0 0 717.02,277.02 L697.78,282.17 A13.3,13.3 0 0 0 674.42,282.17 L655.18,277.02 A13.3,13.3 0 0 0 634.95,265.34 L620.86,251.25 A13.3,13.3 0 0 0 609.18,231.02 Z" fill="#fff" stroke="#424242" stroke-width="1" stroke-linejoin="round"/>
<path d="M609.18,169.18 A13.3,13.3 0 0 0 620.86,148.95 M634.95,134.86 A13.3,13.3 0 0 0 655.18,123.18 M674.42,118.03 A13.3,13.3 0 0 0 697.78,118.03 M717.02,123.18 A13.3,13.3 0 0 0 737.25,134.86 M751.34,148.95 A13.3,13.3 0 0 0 763.02,169.18 M763.02,231.02 A13.3,13.3 0 0 0 751.34,251.25 M737.25,265.34 A13.3,13.3 0 0 0 717.02,277.02 M697.78,282.17 A13.3,13.3 0 0 0 674.42,282.17 M655.18,277.02 A13.3,13.3 0 0 0 634.95,265.34 M620.86,251.25 A13.3,13.3 0 0 0 609.18,231.02 " fill="none" stroke="#424242" stroke-width="1.7" />
<circle cx="613.9" cy="158.3" r="7.9" fill="#fff" stroke="#424242" stroke-width="1.1"/>
<circle cx="613.9" cy="158.3" r="5.3" fill="none" stroke="#424242" stroke-width="1.3"/>
<circle cx="613.9" cy="158.3" r="3.5" fill="none" stroke="#424242" stroke-width="0.8"/>
<circle cx="758.6" cy="240.6" r="7.9" fill="#fff" stroke="#424242" stroke-width="1.1"/>
<circle cx="758.6" cy="240.6" r="5.3" fill="none" stroke="#424242" stroke-width="1.3"/>
<circle cx="758.6" cy="240.6" r="3.5" fill="none" stroke="#424242" stroke-width="0.8"/>
<rect x="605" y="189.3" width="9.2" height="20.4" fill="#fff" stroke="#424242" stroke-width="0.9"/>
<path d="M610.2,209.7 L610.2,215.6 Q610.2,216.4 611,216.4 L613.3,216.4 Q614.1,216.4 614.1,215.6 L614.1,209.7" fill="#fff" stroke="#424242" stroke-width="0.8"/>
<rect x="758.1" y="189.3" width="9.2" height="21.3" fill="#fff" stroke="#424242" stroke-width="0.9"/>
<path d="M758.8,189.3 L758.8,184.6 Q758.8,183.5 759.9,183.5 L761.7,183.5 Q762.8,183.5 762.8,184.6 L762.8,189.3" fill="#fff" stroke="#424242" stroke-width="0.8"/>
<circle cx="686.1" cy="200.1" r="71.8" fill="#fff" stroke="#3c3c3c" stroke-width="2.4"/>
<circle cx="686.1" cy="200.1" r="71.8" fill="none" stroke="#fff" stroke-width="0.55" stroke-opacity="0.85"/>
<circle cx="614.4" cy="184.2" r="4.4" fill="#fff" stroke="#424242" stroke-width="1.2"/>
<path d="M611.144,184.2 L613.52,183.32 L614.4,180.944 L615.28,183.32 L617.656,184.2 L615.28,185.07999999999998 L614.4,187.456 L613.52,185.07999999999998 Z" fill="none" stroke="#424242" stroke-width="0.7"/>
<circle cx="757.2" cy="215.9" r="4.0" fill="#fff" stroke="#424242" stroke-width="1.2"/>
<path d="M754.24,215.9 L756.4000000000001,215.1 L757.2,212.94 L758.0,215.1 L760.1600000000001,215.9 L758.0,216.70000000000002 L757.2,218.86 L756.4000000000001,216.70000000000002 Z" fill="none" stroke="#424242" stroke-width="0.7"/>
<path d="M752.6,223.4 L722.3,260.9 L674.9,269.7 L633.2,245.4 L616.4,199.3 L632.0,156.4 L673.5,131.4 L721.6,138.6 L752.0,176.3 Z M753.9,223.9 L723.0,262.1 L674.7,271.1 L632.1,246.3 L615.0,199.3 L630.9,155.5 L673.2,130.0 L722.3,137.4 L753.3,175.8 Z M748.9,200.6 L752.6,223.4 L733.8,240.7 M748.9,200.6 L737.2,218.4 L733.8,240.7 M728.0,200.1 L737.2,218.4 L717.6,226.1 M733.8,240.7 L722.3,260.9 L696.3,261.5 M733.8,240.7 L713.3,246.9 L696.3,261.5 M717.6,226.1 L713.3,246.9 L692.8,240.8 M696.3,261.5 L674.9,269.7 L654.2,254.1 M696.3,261.5 L676.8,253.1 L654.2,254.1 M692.8,240.8 L676.8,253.1 L665.6,236.0 M654.2,254.1 L633.2,245.4 L627.8,221.0 M654.2,254.1 L644.4,234.4 L627.8,221.0 M665.6,236.0 L644.4,234.4 L647.1,213.9 M627.8,221.0 L616.4,199.3 L627.8,179.4 M627.8,221.0 L631.8,200.4 L627.8,179.4 M647.1,213.9 L631.8,200.4 L647.4,185.9 M627.8,179.4 L632.0,156.4 L654.9,145.3 M627.8,179.4 L644.7,165.2 L654.9,145.3 M647.4,185.9 L644.7,165.2 L665.5,164.3 M654.9,145.3 L673.5,131.4 L696.5,138.5 M654.9,145.3 L676.9,146.7 L696.5,138.5 M665.5,164.3 L676.9,146.7 L693.1,158.8 M696.5,138.5 L721.6,138.6 L733.8,159.9 M696.5,138.5 L713.1,153.0 L733.8,159.9 M693.1,158.8 L713.1,153.0 L717.6,173.3 M733.8,159.9 L752.0,176.3 L748.9,200.6 M733.8,159.9 L737.2,181.8 L748.9,200.6 M717.6,173.3 L737.2,181.8 L728.0,200.1 M693.1,158.8 L691.4,172.7 M717.6,173.3 L708.9,180.5 M728.0,200.1 L712.4,200.4 M717.6,226.1 L708.8,219.2 M692.8,240.8 L691.3,228.2 M665.6,236.0 L671.4,224.9 M647.1,213.9 L658.5,210.2 M647.4,185.9 L659.6,190.4 M665.5,164.3 L671.5,174.2 M691.4,172.7 L693.1,175.7 L708.9,180.5 L712.4,200.4 L708.8,219.2 L694.3,223.8 L691.3,228.2 L671.4,224.9 L668.7,215.8 L658.5,210.2 L659.6,190.4 L665.5,187.0 L671.5,174.2 Z M686.0,200.0 L693.1,175.7 M686.0,200.0 L712.4,200.4 M686.0,200.0 L694.3,223.8 M686.0,200.0 L668.7,215.8 M686.0,200.0 L665.5,187.0" fill="none" stroke="#424242" stroke-width="0.9" stroke-linejoin="round"/>
<path d="M624.1,106.0 L627.3000000000001,106.0 L627.3000000000001,133.0 L632.0,133.0 L625.7,139.8 L619.4000000000001,133.0 L624.1,133.0 Z" fill="#484848"/>
<path d="M771.8,171.7 L775.0,171.7 L775.0,198.4 L779.6999999999999,198.4 L773.4,205.8 L767.1,198.4 L771.8,198.4 Z" fill="#484848"/>
<path d="M610.0,132.70000000000002 C609.6999999999999,129.9 612.0,129.3 614.4,129.3 C616.8,129.3 619.1,129.9 618.8,132.70000000000002 Z" fill="#fff" stroke="#8c1d1d" stroke-width="0.8"/>
<path d="M614.4,128.3 L614.4,132.70000000000002 M611.4,131.10000000000002 L617.4,131.10000000000002" stroke="#8c1d1d" stroke-width="0.6"/>
<path d="M612.1,132.70000000000002 L616.6999999999999,132.70000000000002 L616.6999999999999,146.5 L614.4,149.9 L612.1,146.5 Z" fill="#8c1d1d"/>
<path d="M758.0,204.0 C757.6999999999999,201.2 760.0,200.6 762.4,200.6 C764.8,200.6 767.1,201.2 766.8,204.0 Z" fill="#fff" stroke="#8c1d1d" stroke-width="0.8"/>
<path d="M762.4,199.6 L762.4,204.0 M759.4,202.4 L765.4,202.4" stroke="#8c1d1d" stroke-width="0.6"/>
<path d="M760.1,204.0 L764.6999999999999,204.0 L764.6999999999999,216.99999999999997 L762.64,221.2 L760.1,217.79999999999998 Z" fill="#8c1d1d"/>
</svg>
</body></html>
